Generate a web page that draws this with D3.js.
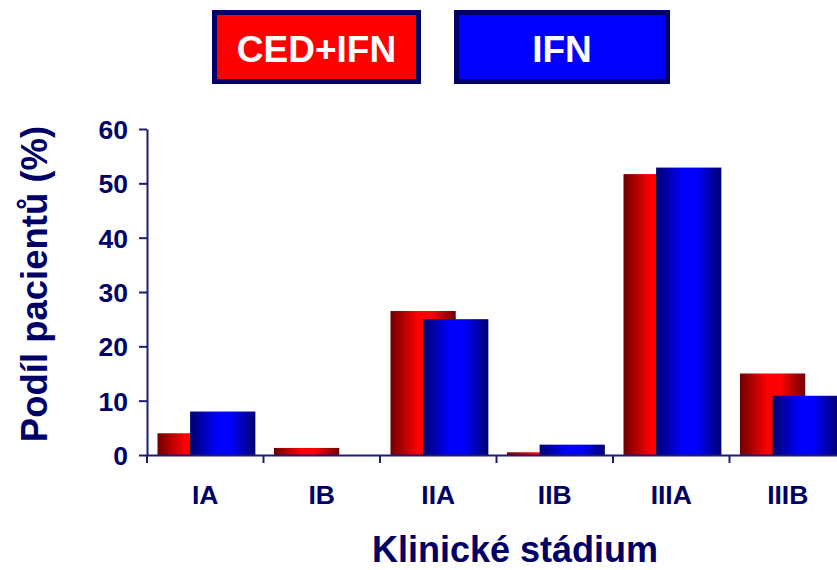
<!DOCTYPE html>
<html>
<head>
<meta charset="utf-8">
<script src="https://cdn.jsdelivr.net/npm/d3@7"></script>
<style>
  body { margin: 0; background: #fff; }
  text { font-family: "Liberation Sans", Arial, sans-serif; font-weight: bold; }
</style>
</head>
<body>
<div id="chart"></div>
<script>
const stages = ["IA", "IB", "IIA", "IIB", "IIIA", "IIIB"];
const seriesNames = ["CED+IFN", "IFN"];
const cedIfn = [4, 1.3, 26.5, 0.5, 51.7, 15];
const ifn = [8, 0, 25, 1.9, 52.9, 10.9];
const yTicks = [0, 10, 20, 30, 40, 50, 60];

const width = 837;
const height = 570;
const navy = "#000066";
const axisCol = "#1c1c70";

const svg = d3.select("#chart").append("svg")
    .attr("width", width)
    .attr("height", height);

// gradients for the bars (dark edges, bright middle)
const defs = svg.append("defs");
function grad(id, dark, bright) {
    const g = defs.append("linearGradient").attr("id", id)
        .attr("x1", "0%").attr("x2", "100%").attr("y1", "0%").attr("y2", "0%");
    g.append("stop").attr("offset", "0%").attr("stop-color", dark);
    g.append("stop").attr("offset", "42%").attr("stop-color", bright);
    g.append("stop").attr("offset", "62%").attr("stop-color", bright);
    g.append("stop").attr("offset", "100%").attr("stop-color", dark);
}
grad("gRed", "#6e0000", "#ff0000");
grad("gBlue", "#000070", "#0000ff");

const x = d3.scaleBand()
    .domain(stages)
    .range([147, 147 + 6 * 116.5]);

const y = d3.scaleLinear()
    .domain([0, 60])
    .range([455, 129]);

const barW = x.bandwidth() * 0.56;
const series = [
    { name: seriesNames[0], values: cedIfn, fill: "url(#gRed)", offset: 10.5 },
    { name: seriesNames[1], values: ifn, fill: "url(#gBlue)", offset: 10.5 + barW / 2 }
];

// bars
series.forEach(s => {
    svg.append("g")
        .selectAll("rect")
        .data(stages)
        .enter()
        .append("rect")
        .attr("x", (d, i) => x(d) + s.offset)
        .attr("y", (d, i) => y(s.values[i]))
        .attr("width", barW)
        .attr("height", (d, i) => y(0) - y(s.values[i]))
        .attr("fill", s.fill);
});

// y axis
const yAxis = svg.append("g")
    .attr("transform", "translate(147,0)")
    .call(d3.axisLeft(y).tickValues(yTicks).tickSize(8).tickSizeOuter(0).tickPadding(11));

// x axis, ticks at category boundaries
const xAxis = svg.append("g")
    .attr("transform", "translate(0,455)")
    .call(d3.axisBottom(x).tickSize(0).tickPadding(30));
xAxis.selectAll(".tick line").remove();
xAxis.selectAll(".bound")
    .data(stages)
    .enter()
    .append("line")
    .attr("x1", d => x(d)).attr("x2", d => x(d))
    .attr("y1", 0).attr("y2", 8)
    .attr("stroke", axisCol).attr("stroke-width", 2);

[yAxis, xAxis].forEach(a => {
    a.select(".domain").attr("stroke", axisCol).attr("stroke-width", 2);
    a.selectAll(".tick line").attr("stroke", axisCol).attr("stroke-width", 2);
    a.selectAll(".tick text")
        .attr("fill", navy)
        .style("font-size", "26.5px")
        .style("font-family", "'Liberation Sans', Arial, sans-serif")
        .style("font-weight", "bold");
});
yAxis.selectAll(".tick text").attr("dy", "0.36em");

// axis titles
svg.append("text")
    .attr("transform", "translate(47,284) rotate(-90)")
    .attr("text-anchor", "middle")
    .attr("fill", navy)
    .style("font-size", "36.5px")
    .text("Podíl pacientů (%)");

svg.append("text")
    .attr("x", 515)
    .attr("y", 562)
    .attr("text-anchor", "middle")
    .attr("fill", navy)
    .style("font-size", "36px")
    .text("Klinické stádium");

// legend boxes
const legendBoxes = [
    { name: seriesNames[0], x: 214.5, w: 204, fill: "#ff0000" },
    { name: seriesNames[1], x: 456.5, w: 211, fill: "#0000ff" }
];
const lg = svg.append("g").selectAll("g")
    .data(legendBoxes)
    .enter()
    .append("g");
lg.append("rect")
    .attr("x", d => d.x)
    .attr("y", 12.5)
    .attr("width", d => d.w)
    .attr("height", 69)
    .attr("fill", d => d.fill)
    .attr("stroke", navy)
    .attr("stroke-width", 5);
lg.append("text")
    .attr("x", d => d.x + d.w / 2)
    .attr("y", 62)
    .attr("text-anchor", "middle")
    .attr("fill", "#fff")
    .style("font-size", "37px")
    .text(d => d.name);
</script>
</body>
</html>
